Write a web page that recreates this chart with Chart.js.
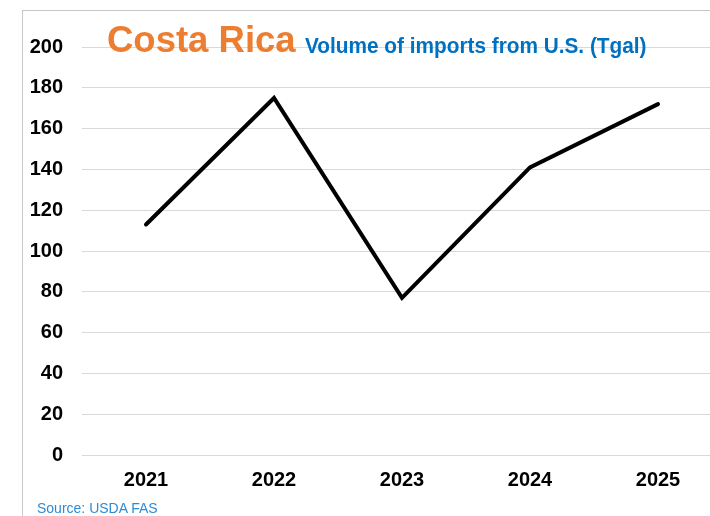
<!DOCTYPE html>
<html>
<head>
<meta charset="utf-8">
<script src="https://cdn.jsdelivr.net/npm/chart.js@4"></script>
<style>
  html, body { margin: 0; padding: 0; background: #fff; overflow: hidden; width: 710px; height: 516px; }
  body { position: relative; font-family: "Liberation Sans", Arial, sans-serif; }
  #frame { position: absolute; left: 22px; top: 10px; right: -2px; bottom: -2px;
           border-left: 1px solid #c8c8c8; border-top: 1px solid #c8c8c8; }
  #wrap { position: absolute; left: 0; top: 0; width: 740px; height: 516px; }
  .txt { position: absolute; white-space: nowrap; line-height: 1; font-weight: bold; }
  #country { left: 107px; top: 22px; font-size: 36.5px; color: #ed7d31; }
  #subtitle { left: 305px; top: 35px; font-size: 22px; color: #0070c0;
              transform: scaleX(0.945); transform-origin: left top; }
  #source { left: 37px; top: 501px; font-size: 14px; font-weight: normal; color: #2e8bd6; }
</style>
</head>
<body>
<div id="frame"></div>
<div id="wrap"><canvas id="chart" width="740" height="516"></canvas></div>
<div class="txt" id="country">Costa Rica</div>
<div class="txt" id="subtitle">Volume of imports from U.S. (Tgal)</div>
<div class="txt" id="source">Source: USDA FAS</div>
<script>
const years = ["2021", "2022", "2023", "2024", "2025"];
const imports = [113, 175, 77, 141, 172];
const yTicks = [0, 20, 40, 60, 80, 100, 120, 140, 160, 180, 200];

const tickFont = {family: "'Liberation Sans', Arial, sans-serif", size: 20, weight: "bold"};

new Chart(document.getElementById("chart"), {
  type: "line",
  data: {
    labels: years,
    datasets: [{
      data: imports,
      borderColor: "#000",
      borderWidth: 4,
      borderJoinStyle: "miter",
      borderCapStyle: "round",
      pointRadius: 0,
      tension: 0,
      fill: false,
    }],
  },
  options: {
    responsive: false,
    animation: false,
    layout: {padding: {top: 47, bottom: 11, left: 0, right: 18}},
    plugins: {legend: {display: false}, tooltip: {enabled: false}},
    scales: {
      x: {
        offset: true,
        grid: {display: false, drawTicks: false},
        border: {display: false},
        ticks: {color: "#000", font: tickFont, padding: 13, maxRotation: 0},
      },
      y: {
        min: yTicks[0],
        max: yTicks[yTicks.length - 1],
        afterBuildTicks: s => { s.ticks = yTicks.map(v => ({value: v})); },
        afterFit: s => { s.width = 82; },
        grid: {color: "#d9d9d9", lineWidth: 1, drawTicks: false},
        border: {display: false},
        ticks: {color: "#000", font: tickFont, padding: 19},
      },
    },
  },
});
</script>
</body>
</html>
